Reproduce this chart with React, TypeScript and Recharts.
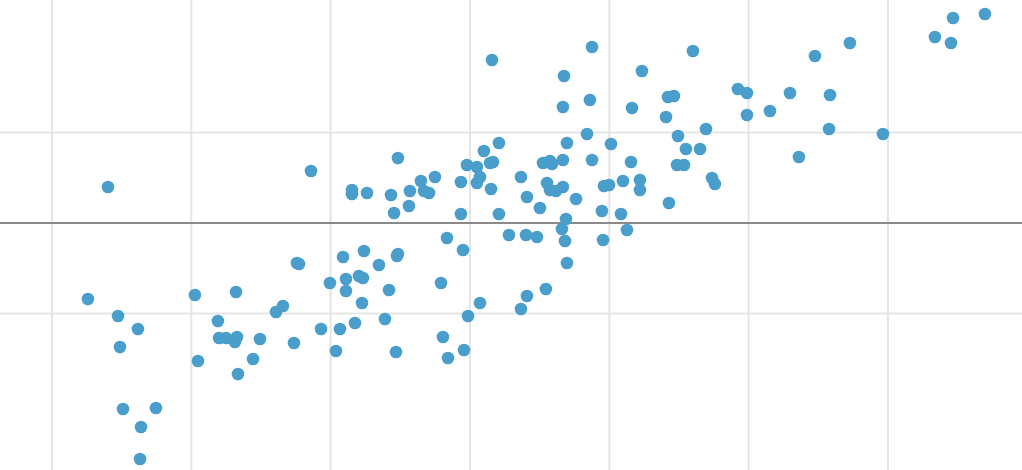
import { ReferenceLine, Scatter, ScatterChart, XAxis, YAxis } from "recharts";

// values; x ticks at -3..3, y grid at -1, 0, 1
const xValues = [
  -2.598, -2.742, -2.526, -2.383, -2.512, -2.49, -2.254, -2.361, -2.368, -1.974,
  -1.952, -1.809, -1.801, -1.751, -1.672, -1.687, -1.679, -1.665, -1.557, -1.507,
  -1.392, -1.342, -1.263, -1.242, -1.227, -1.141, -1.069, -1.005, -0.962, -0.933,
  -0.911, -0.89, -0.89, -0.847, -0.847, -0.825, -0.797, -0.768, -0.775, -0.761,
  -0.739, -0.653, -0.61, -0.581, -0.567, -0.545, -0.531, -0.517, -0.517, -0.524,
  -0.438, -0.431, -0.352, -0.33, -0.294, -0.251, -0.208, -0.194, -0.165, -0.158,
  -0.065, -0.065, -0.05, -0.043, -0.022, -0.014, 0.05, 0.05, 0.072, 0.072,
  0.1, 0.144, 0.165, 0.151, 0.158, 0.208, 0.208, 0.28, 0.366, 0.366,
  0.402, 0.409, 0.409, 0.481, 0.502, 0.524, 0.545, 0.553, 0.574, 0.589,
  0.574, 0.617, 0.66, 0.667, 0.667, 0.667, 0.675, 0.682, 0.689, 0.696,
  0.696, 0.761, 0.84, 0.861, 0.876, 0.876, 0.947, 0.955, 0.962, 0.998,
  1.012, 1.084, 1.098, 1.127, 1.156, 1.163, 1.22, 1.22, 1.234, 1.407,
  1.421, 1.464, 1.428, 1.493, 1.486, 1.536, 1.55, 1.6, 1.651, 1.694,
  1.737, 1.758, 1.923, 1.988, 1.988, 2.153, 2.297, 2.361, 2.476, 2.577,
  2.584, 2.727, 2.964, 3.337, 3.452, 3.467, 3.696,
];

const yValues = [
  0.398, -0.84, -1.028, -1.171, -1.37, -2.055, -2.044, -2.254, -2.608, -0.796,
  -1.525, -1.083, -1.271, -1.271, -1.26, -1.315, -0.762, -1.669, -1.503, -1.282,
  -0.983, -0.917, -1.326, -0.442, -0.453, 0.575, -1.171, -0.663, -1.414, -1.171,
  -0.376, -0.619, -0.751, 0.365, 0.32, -1.105, -0.586, -0.608, -0.884, -0.309,
  0.332, -0.464, -1.061, -0.74, 0.309, 0.11, -1.425, 0.718, -0.343, -0.365,
  0.188, 0.354, 0.464, 0.354, 0.332, 0.508, -0.663, -1.26, -0.166, -1.492,
  0.453, 0.099, -0.298, -1.403, 0.641, -1.028, 0.619, 0.442, 0.508, -0.884,
  0.796, 0.663, 0.674, 0.376, 1.801, 0.884, 0.099, -0.133, 0.508, -0.95,
  -0.133, 0.287, -0.807, -0.155, 0.166, 0.663, -0.729, 0.442, 0.685, 0.652,
  0.365, 0.354, -0.066, 1.282, 0.696, 0.398, 1.624, -0.199, 0.044, 0.884,
  -0.442, 0.265, 0.983, 1.359, 1.945, 0.696, 0.133, -0.188, 0.409, 0.42,
  0.873, 0.099, 0.464, -0.077, 0.674, 1.271, 0.475, 0.365, 1.68, 1.171,
  1.392, 1.403, 0.221, 0.961, 0.641, 0.641, 0.818, 1.901, 0.818, 1.039,
  0.497, 0.431, 1.481, 1.436, 1.193, 1.238, 1.436, 0.729, 1.845, 1.039,
  1.414, 1.989, 0.983, 2.055, 1.989, 2.265, 2.309,
];

const xGrid = [-3, -2, -1, 0, 1, 2, 3];
const yGrid = [-1, 1];

const points = xValues.map((x, i) => ({ x, y: yValues[i] }));

const DOT_COLOR = "#4a9ecb";

function Dot(props: any) {
  const { cx, cy } = props;
  if (cx == null || cy == null) return null;
  return <circle cx={cx} cy={cy} r={6.3} fill={DOT_COLOR} />;
}

export default function App() {
  return (
    <div style={{ position: "absolute", left: 0, top: 0, width: 1022, height: 470, overflow: "hidden", background: "#fff" }}>
      <ScatterChart width={1022} height={470} margin={{ top: 0, right: 0, bottom: 0, left: 0 }}>
        <XAxis type="number" dataKey="x" domain={[-3.373, 3.962]} allowDataOverflow hide />
        <YAxis type="number" dataKey="y" domain={[-2.729, 2.464]} allowDataOverflow hide />
        {xGrid.map((v) => (
          <ReferenceLine key={`x${v}`} x={v} stroke="#e5e5e5" strokeWidth={2} />
        ))}
        {yGrid.map((v) => (
          <ReferenceLine key={`y${v}`} y={v} stroke="#e5e5e5" strokeWidth={2} />
        ))}
        <ReferenceLine y={0} stroke="#8a8a8a" strokeWidth={2} />
        <Scatter data={points} shape={<Dot />} isAnimationActive={false} />
      </ScatterChart>
    </div>
  );
}
